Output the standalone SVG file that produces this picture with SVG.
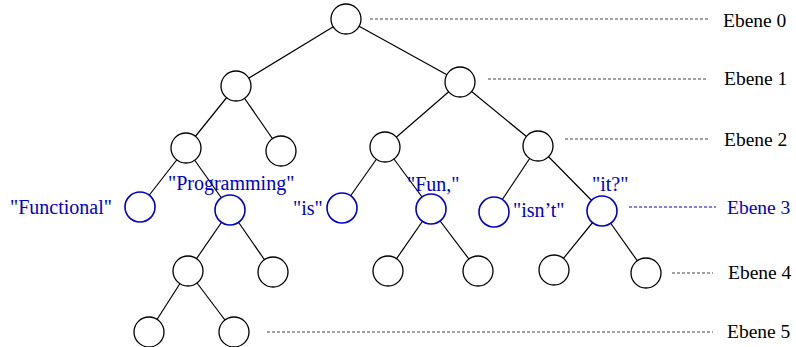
<svg xmlns="http://www.w3.org/2000/svg" width="796" height="347" viewBox="0 0 796 347">
  <style>
    .edge { stroke: #000; stroke-width: 1.2; fill: none; }
    .node { fill: #fff; stroke: #000; stroke-width: 1.3; }
    .node.leaf { stroke: #0000cc; stroke-width: 1.6; }
    .guide { stroke: #444; stroke-width: 1; stroke-dasharray: 3 2; fill: none; }
    .guide.blue { stroke: #0000cc; }
    .lvl { font-family: "Liberation Serif", "Times New Roman", serif; font-size: 19.5px; fill: #000; }
    .lvl.blue { fill: #0000cc; }
    .word { font-family: "Liberation Serif", "Times New Roman", serif; font-size: 20px; fill: #0000cc; }
  </style>

  <!-- tree edges, centre to centre; circles with white fill cover the inner ends -->
  <g id="edges">
    <line class="edge" x1="346" y1="19" x2="236" y2="86"/>
    <line class="edge" x1="346" y1="19" x2="460" y2="82"/>
    <line class="edge" x1="236" y1="86" x2="186" y2="148"/>
    <line class="edge" x1="236" y1="86" x2="281" y2="151"/>
    <line class="edge" x1="460" y1="82" x2="385" y2="147"/>
    <line class="edge" x1="460" y1="82" x2="538" y2="146"/>
    <line class="edge" x1="186" y1="148" x2="140" y2="207"/>
    <line class="edge" x1="186" y1="148" x2="230" y2="210"/>
    <line class="edge" x1="385" y1="147" x2="342" y2="208"/>
    <line class="edge" x1="385" y1="147" x2="431" y2="209"/>
    <line class="edge" x1="538" y1="146" x2="494" y2="212"/>
    <line class="edge" x1="538" y1="146" x2="602" y2="211"/>
    <line class="edge" x1="230" y1="210" x2="188" y2="271"/>
    <line class="edge" x1="230" y1="210" x2="273" y2="272"/>
    <line class="edge" x1="431" y1="209" x2="388" y2="271"/>
    <line class="edge" x1="431" y1="209" x2="478" y2="271"/>
    <line class="edge" x1="602" y1="211" x2="554" y2="270"/>
    <line class="edge" x1="602" y1="211" x2="646" y2="273"/>
    <line class="edge" x1="188" y1="271" x2="149" y2="332"/>
    <line class="edge" x1="188" y1="271" x2="234" y2="332"/>
  </g>

  <!-- level guides -->
  <g id="guides">
    <line class="guide" x1="370" y1="19" x2="708" y2="19"/>
    <line class="guide" x1="488" y1="79" x2="708" y2="79"/>
    <line class="guide" x1="565" y1="139" x2="710" y2="139"/>
    <line class="guide blue" x1="629" y1="207" x2="716" y2="207"/>
    <line class="guide" x1="672" y1="273" x2="713" y2="273"/>
    <line class="guide" x1="267" y1="332" x2="713" y2="332"/>
  </g>

  <!-- nodes -->
  <g id="n0"><circle class="node" cx="346" cy="19" r="15"/></g>
  <g id="n1a"><circle class="node" cx="236" cy="86" r="15"/></g>
  <g id="n1b"><circle class="node" cx="460" cy="82" r="15"/></g>
  <g id="n2a"><circle class="node" cx="186" cy="148" r="15"/></g>
  <g id="n2b"><circle class="node" cx="281" cy="151" r="15"/></g>
  <g id="n2c"><circle class="node" cx="385" cy="147" r="15"/></g>
  <g id="n2d"><circle class="node" cx="538" cy="146" r="15"/></g>
  <g id="n3-functional"><circle class="node leaf" cx="140" cy="207" r="15"/><text class="word" x="10" y="214">"Functional"</text></g>
  <g id="n3-programming"><circle class="node leaf" cx="230" cy="210" r="15"/><text class="word" x="168" y="190">"Programming"</text></g>
  <g id="n3-is"><circle class="node leaf" cx="342" cy="208" r="15"/><text class="word" x="293" y="215">"is"</text></g>
  <g id="n3-fun"><circle class="node leaf" cx="431" cy="209" r="15"/><text class="word" x="407" y="191">"Fun,"</text></g>
  <g id="n3-isnt"><circle class="node leaf" cx="494" cy="212" r="15"/><text class="word" x="513" y="217">"isn’t"</text></g>
  <g id="n3-it"><circle class="node leaf" cx="602" cy="211" r="15"/><text class="word" x="592" y="191">"it?"</text></g>
  <g id="n4a"><circle class="node" cx="188" cy="271" r="15"/></g>
  <g id="n4b"><circle class="node" cx="273" cy="272" r="15"/></g>
  <g id="n4c"><circle class="node" cx="388" cy="271" r="15"/></g>
  <g id="n4d"><circle class="node" cx="478" cy="271" r="15"/></g>
  <g id="n4e"><circle class="node" cx="554" cy="270" r="15"/></g>
  <g id="n4f"><circle class="node" cx="646" cy="273" r="15"/></g>
  <g id="n5a"><circle class="node" cx="149" cy="332" r="15"/></g>
  <g id="n5b"><circle class="node" cx="234" cy="332" r="15"/></g>

  <!-- level labels -->
  <g id="levels">
    <text class="lvl" x="723" y="27">Ebene 0</text>
    <text class="lvl" x="724" y="85">Ebene 1</text>
    <text class="lvl" x="724" y="146">Ebene 2</text>
    <text class="lvl blue" x="727" y="214">Ebene 3</text>
    <text class="lvl" x="728" y="279">Ebene 4</text>
    <text class="lvl" x="727" y="338">Ebene 5</text>
  </g>
</svg>
